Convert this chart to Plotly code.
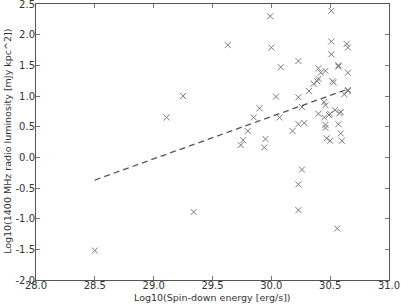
import plotly.graph_objects as go

spin_down = [28.50, 29.11, 29.25, 29.34, 29.63, 29.99, 30.00, 30.08, 30.23, 30.51,
             30.51, 30.64, 30.65, 30.51, 30.57, 30.57, 30.40, 30.46, 30.42, 30.65,
             30.40, 30.39, 30.36, 30.52, 30.53, 30.32, 30.65, 30.65, 30.62, 30.04,
             30.23, 30.45, 30.46, 30.26, 29.90, 30.54, 30.59, 30.58, 30.50, 30.49,
             30.40, 30.45, 29.85, 30.07, 30.23, 30.28, 30.46, 30.46, 30.57, 29.80,
             30.18, 30.59, 30.47, 30.50, 30.60, 29.76, 29.74, 29.95, 29.94, 30.26,
             30.23, 30.23, 30.56]
radio_lum = [-1.52, 0.65, 1.00, -0.89, 1.83, 2.30, 1.79, 1.47, 1.57, 2.39,
             1.89, 1.85, 1.79, 1.68, 1.50, 1.48, 1.45, 1.41, 1.38, 1.38,
             1.28, 1.24, 1.20, 1.24, 1.22, 1.08, 1.10, 1.08, 1.03, 0.99,
             0.98, 0.90, 0.85, 0.82, 0.80, 0.77, 0.74, 0.72, 0.71, 0.69,
             0.71, 0.65, 0.65, 0.65, 0.54, 0.56, 0.53, 0.48, 0.54, 0.43,
             0.43, 0.39, 0.31, 0.27, 0.27, 0.28, 0.20, 0.30, 0.16, -0.20,
             -0.44, -0.86, -1.16]

fit_slope = 0.69
fit_intercept = -20.035

x_ticks = [28.0, 28.5, 29.0, 29.5, 30.0, 30.5, 31.0]
y_ticks = [-2.0, -1.5, -1.0, -0.5, 0.0, 0.5, 1.0, 1.5, 2.0, 2.5]

x_title = "Log10(Spin-down energy [erg/s])"
y_title = "Log10(1400 MHz radio luminosity [mJy kpc^2])"

fit_x = [min(spin_down), max(spin_down)]
fit_y = [fit_slope * v + fit_intercept for v in fit_x]

fig = go.Figure()
fig.add_trace(go.Scatter(
    x=spin_down, y=radio_lum, mode="markers",
    marker=dict(symbol="x-thin", size=6, color="#7a7a7a",
                line=dict(width=1, color="#7a7a7a")),
    showlegend=False))
fig.add_trace(go.Scatter(
    x=fit_x, y=fit_y, mode="lines",
    line=dict(color="#555555", width=1.3, dash="6px,4px"),
    showlegend=False))

font_main = dict(family="DejaVu Sans", size=10, color="#333333")
axis_common = dict(
    showgrid=False, zeroline=False, showline=True, linecolor="#555555",
    linewidth=1, mirror="allticks", ticks="inside", ticklen=4,
    tickcolor="#777777", tickfont=font_main, automargin=False,
    ticklabeloverflow="allow",
)

fig.update_layout(
    width=401, height=305,
    margin=dict(l=36, r=12, t=4, b=25),
    paper_bgcolor="white", plot_bgcolor="white",
    xaxis=dict(range=[28.0, 31.0], tickvals=x_ticks,
               ticktext=[f"{v:.1f}" for v in x_ticks],
               ticklabelstandoff=-4, **axis_common),
    yaxis=dict(range=[-2.0, 2.5], tickvals=y_ticks,
               ticktext=[f"{v:.1f}" for v in y_ticks],
               ticklabelstandoff=-2, **axis_common),
    annotations=[
        dict(text=x_title, xref="paper", yref="paper", x=0.5, y=0,
             xanchor="center", yanchor="middle", yshift=-17, showarrow=False,
             font=dict(family="DejaVu Sans", size=9.5, color="#333333")),
        dict(text=y_title, xref="paper", yref="paper", x=0, y=0.5,
             xanchor="center", yanchor="middle", xshift=-29, textangle=-90,
             showarrow=False,
             font=dict(family="DejaVu Sans", size=9.5, color="#333333")),
    ],
)

fig.write_html(
    "out.html",
    config={"displayModeBar": False},
    post_script="document.body.style.margin='0';document.body.style.padding='0';",
)
